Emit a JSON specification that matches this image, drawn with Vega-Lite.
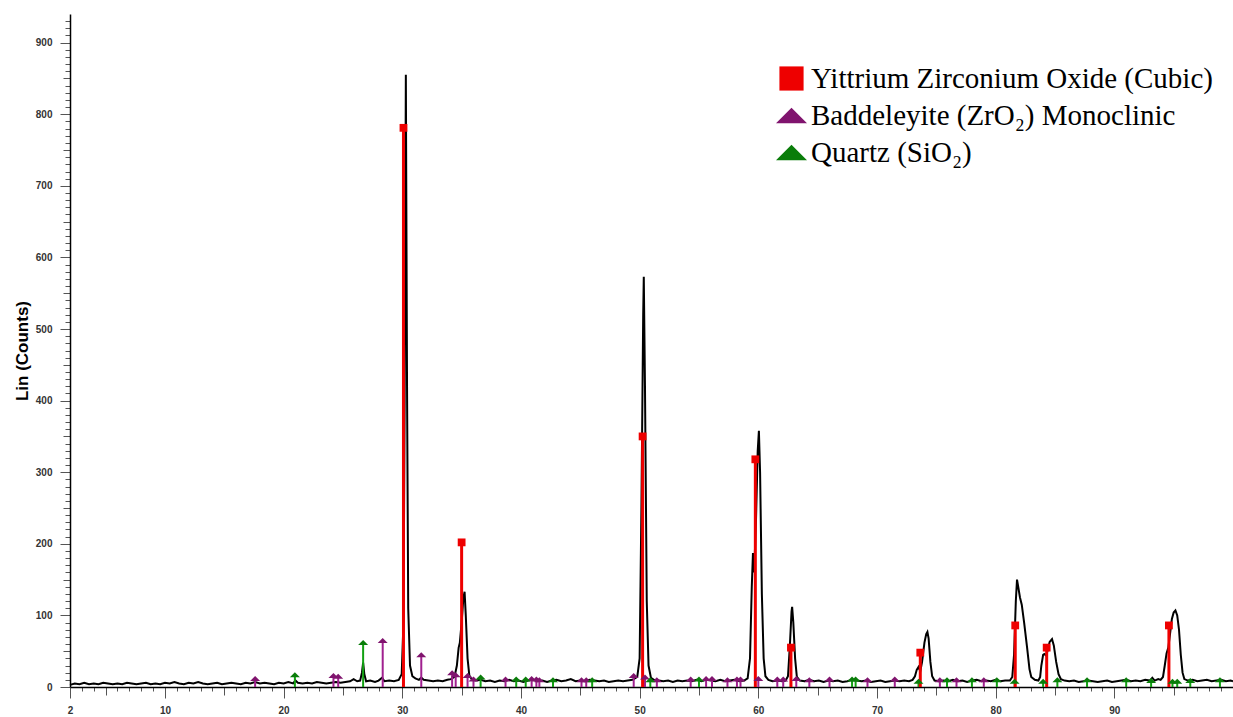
{
  "$schema": "https://vega.github.io/schema/vega-lite/v6.json",
  "autosize": {"type": "none"},
  "width": 1163,
  "height": 673,
  "padding": {"left": 70, "top": 14, "right": 0, "bottom": 30},
  "background": "#ffffff",
  "config": {"view": {"stroke": null}},
  "datasets": {
    "pattern": [
      {"x":2.0,"y":3},{"x":2.4,"y":5},{"x":2.8,"y":4},{"x":3.2,"y":6},{"x":3.6,"y":4},{"x":4.0,"y":5},{"x":4.4,"y":4},{"x":4.8,"y":6},{"x":5.2,"y":5},{"x":5.6,"y":4},
      {"x":6.0,"y":5},{"x":6.4,"y":4},{"x":6.8,"y":6},{"x":7.2,"y":5},{"x":7.6,"y":4},{"x":8.0,"y":5},{"x":8.4,"y":6},{"x":8.8,"y":4},{"x":9.2,"y":5},{"x":9.6,"y":4},
      {"x":10.0,"y":6},{"x":10.4,"y":5},{"x":10.8,"y":7},{"x":11.2,"y":5},{"x":11.6,"y":4},{"x":12.0,"y":6},{"x":12.4,"y":5},{"x":12.8,"y":7},{"x":13.2,"y":5},{"x":13.6,"y":4},
      {"x":14.0,"y":5},{"x":14.4,"y":6},{"x":14.8,"y":4},{"x":15.2,"y":5},{"x":15.6,"y":6},{"x":16.0,"y":5},{"x":16.4,"y":4},{"x":16.8,"y":6},{"x":17.2,"y":5},{"x":17.6,"y":7},
      {"x":18.0,"y":5},{"x":18.4,"y":6},{"x":18.8,"y":5},{"x":19.2,"y":4},{"x":19.6,"y":6},{"x":20.0,"y":5},{"x":20.4,"y":7},{"x":20.8,"y":5},{"x":21.0,"y":9},{"x":21.2,"y":6},
      {"x":21.6,"y":5},{"x":22.0,"y":6},{"x":22.4,"y":5},{"x":22.8,"y":7},{"x":23.2,"y":6},{"x":23.6,"y":5},{"x":24.0,"y":6},{"x":24.4,"y":7},{"x":24.8,"y":6},{"x":25.2,"y":7},
      {"x":25.6,"y":8},{"x":25.9,"y":11},{"x":26.2,"y":8},{"x":26.45,"y":9},{"x":26.6,"y":20},{"x":26.7,"y":34},{"x":26.8,"y":18},{"x":26.95,"y":8},{"x":27.3,"y":9},{"x":27.7,"y":7},
      {"x":28.0,"y":9},{"x":28.3,"y":13},{"x":28.5,"y":8},{"x":28.9,"y":9},{"x":29.3,"y":8},{"x":29.7,"y":10},{"x":29.95,"y":18},{"x":30.1,"y":90},{"x":30.2,"y":400},{"x":30.3,"y":855},
      {"x":30.4,"y":420},{"x":30.5,"y":110},{"x":30.65,"y":30},{"x":30.85,"y":15},{"x":31.1,"y":12},{"x":31.4,"y":10},{"x":31.6,"y":13},{"x":31.8,"y":10},{"x":32.2,"y":9},{"x":32.6,"y":8},
      {"x":33.0,"y":9},{"x":33.4,"y":8},{"x":33.8,"y":10},{"x":34.1,"y":11},{"x":34.4,"y":14},{"x":34.6,"y":30},{"x":34.75,"y":55},{"x":34.85,"y":62},{"x":35.0,"y":90},{"x":35.15,"y":125},
      {"x":35.25,"y":133},{"x":35.35,"y":100},{"x":35.5,"y":40},{"x":35.65,"y":16},{"x":35.9,"y":10},{"x":36.2,"y":9},{"x":36.6,"y":10},{"x":37.0,"y":8},{"x":37.4,"y":9},{"x":37.8,"y":7},
      {"x":38.2,"y":9},{"x":38.6,"y":8},{"x":39.0,"y":10},{"x":39.4,"y":8},{"x":39.8,"y":9},{"x":40.2,"y":7},{"x":40.6,"y":9},{"x":41.0,"y":10},{"x":41.4,"y":8},{"x":41.8,"y":9},
      {"x":42.2,"y":7},{"x":42.6,"y":9},{"x":43.0,"y":10},{"x":43.4,"y":8},{"x":43.8,"y":9},{"x":44.2,"y":11},{"x":44.6,"y":8},{"x":45.0,"y":9},{"x":45.4,"y":8},{"x":45.8,"y":10},
      {"x":46.2,"y":9},{"x":46.6,"y":8},{"x":47.0,"y":9},{"x":47.4,"y":7},{"x":47.8,"y":8},{"x":48.2,"y":9},{"x":48.6,"y":8},{"x":49.0,"y":9},{"x":49.4,"y":10},{"x":49.8,"y":14},
      {"x":50.0,"y":40},{"x":50.15,"y":250},{"x":50.3,"y":520},{"x":50.35,"y":573},{"x":50.45,"y":420},{"x":50.6,"y":120},{"x":50.75,"y":30},{"x":50.95,"y":13},{"x":51.2,"y":10},{"x":51.6,"y":9},
      {"x":52.0,"y":8},{"x":52.4,"y":9},{"x":52.8,"y":7},{"x":53.2,"y":9},{"x":53.6,"y":8},{"x":54.0,"y":9},{"x":54.4,"y":8},{"x":54.8,"y":10},{"x":55.2,"y":8},{"x":55.6,"y":10},
      {"x":56.0,"y":9},{"x":56.4,"y":8},{"x":56.8,"y":10},{"x":57.2,"y":8},{"x":57.6,"y":9},{"x":58.0,"y":10},{"x":58.4,"y":8},{"x":58.8,"y":9},{"x":59.1,"y":12},{"x":59.3,"y":40},
      {"x":59.45,"y":140},{"x":59.55,"y":187},{"x":59.65,"y":160},{"x":59.8,"y":230},{"x":59.95,"y":330},{"x":60.05,"y":358},{"x":60.15,"y":300},{"x":60.3,"y":130},{"x":60.45,"y":40},{"x":60.6,"y":15},
      {"x":60.85,"y":10},{"x":61.2,"y":8},{"x":61.6,"y":9},{"x":62.0,"y":8},{"x":62.3,"y":9},{"x":62.5,"y":15},{"x":62.65,"y":55},{"x":62.8,"y":105},{"x":62.85,"y":112},{"x":62.95,"y":90},
      {"x":63.1,"y":40},{"x":63.25,"y":14},{"x":63.5,"y":9},{"x":63.9,"y":8},{"x":64.3,"y":10},{"x":64.7,"y":8},{"x":65.1,"y":9},{"x":65.5,"y":7},{"x":65.9,"y":9},{"x":66.3,"y":8},
      {"x":66.7,"y":9},{"x":67.1,"y":7},{"x":67.5,"y":8},{"x":67.9,"y":10},{"x":68.3,"y":9},{"x":68.7,"y":8},{"x":69.1,"y":9},{"x":69.5,"y":7},{"x":69.9,"y":8},{"x":70.3,"y":9},
      {"x":70.7,"y":7},{"x":71.1,"y":8},{"x":71.5,"y":9},{"x":71.9,"y":8},{"x":72.3,"y":9},{"x":72.7,"y":8},{"x":73.0,"y":10},{"x":73.2,"y":15},{"x":73.35,"y":24},{"x":73.5,"y":28},
      {"x":73.65,"y":22},{"x":73.8,"y":35},{"x":74.0,"y":62},{"x":74.15,"y":74},{"x":74.25,"y":77},{"x":74.35,"y":68},{"x":74.5,"y":35},{"x":74.65,"y":15},{"x":74.85,"y":9},{"x":75.2,"y":8},
      {"x":75.6,"y":9},{"x":76.0,"y":8},{"x":76.4,"y":10},{"x":76.8,"y":8},{"x":77.2,"y":9},{"x":77.6,"y":7},{"x":78.0,"y":9},{"x":78.4,"y":10},{"x":78.8,"y":8},{"x":79.2,"y":9},
      {"x":79.6,"y":8},{"x":80.0,"y":10},{"x":80.4,"y":8},{"x":80.8,"y":9},{"x":81.2,"y":9},{"x":81.4,"y":14},{"x":81.55,"y":45},{"x":81.7,"y":120},{"x":81.8,"y":150},{"x":81.9,"y":140},
      {"x":82.05,"y":125},{"x":82.2,"y":115},{"x":82.4,"y":90},{"x":82.65,"y":55},{"x":82.85,"y":25},{"x":83.0,"y":14},{"x":83.3,"y":10},{"x":83.6,"y":9},{"x":83.75,"y":14},{"x":83.85,"y":30},
      {"x":84.0,"y":45},{"x":84.1,"y":46},{"x":84.25,"y":44},{"x":84.4,"y":52},{"x":84.55,"y":63},{"x":84.75,"y":67},{"x":84.9,"y":58},{"x":85.1,"y":35},{"x":85.3,"y":18},{"x":85.5,"y":11},
      {"x":85.8,"y":9},{"x":86.2,"y":8},{"x":86.6,"y":9},{"x":87.0,"y":7},{"x":87.4,"y":8},{"x":87.8,"y":9},{"x":88.2,"y":8},{"x":88.6,"y":7},{"x":89.0,"y":8},{"x":89.4,"y":9},
      {"x":89.8,"y":7},{"x":90.2,"y":8},{"x":90.6,"y":9},{"x":91.0,"y":10},{"x":91.4,"y":8},{"x":91.8,"y":9},{"x":92.2,"y":8},{"x":92.6,"y":10},{"x":93.0,"y":9},{"x":93.2,"y":13},
      {"x":93.4,"y":9},{"x":93.7,"y":11},{"x":93.9,"y":10},{"x":94.1,"y":14},{"x":94.25,"y":30},{"x":94.4,"y":47},{"x":94.55,"y":55},{"x":94.7,"y":75},{"x":94.85,"y":95},{"x":95.0,"y":104},
      {"x":95.15,"y":107},{"x":95.3,"y":100},{"x":95.45,"y":80},{"x":95.6,"y":45},{"x":95.75,"y":20},{"x":95.9,"y":11},{"x":96.2,"y":9},{"x":96.6,"y":10},{"x":97.0,"y":8},{"x":97.4,"y":9},
      {"x":97.8,"y":10},{"x":98.2,"y":8},{"x":98.6,"y":9},{"x":99.0,"y":10},{"x":99.4,"y":8},{"x":99.8,"y":9},{"x":100.0,"y":8}
    ],
    "refs": [
      {"x":30.1,"y":781,"phase":"Yittrium Zirconium Oxide (Cubic)"},
      {"x":35.0,"y":202,"phase":"Yittrium Zirconium Oxide (Cubic)"},
      {"x":50.25,"y":350,"phase":"Yittrium Zirconium Oxide (Cubic)"},
      {"x":59.75,"y":318,"phase":"Yittrium Zirconium Oxide (Cubic)"},
      {"x":62.75,"y":55,"phase":"Yittrium Zirconium Oxide (Cubic)"},
      {"x":73.65,"y":48,"phase":"Yittrium Zirconium Oxide (Cubic)"},
      {"x":81.65,"y":86,"phase":"Yittrium Zirconium Oxide (Cubic)"},
      {"x":84.3,"y":55,"phase":"Yittrium Zirconium Oxide (Cubic)"},
      {"x":94.6,"y":86,"phase":"Yittrium Zirconium Oxide (Cubic)"},
      {"x":17.6,"y":12,"phase":"Baddeleyite (ZrO₂) Monoclinic"},
      {"x":24.2,"y":16,"phase":"Baddeleyite (ZrO₂) Monoclinic"},
      {"x":24.6,"y":15,"phase":"Baddeleyite (ZrO₂) Monoclinic"},
      {"x":28.35,"y":65,"phase":"Baddeleyite (ZrO₂) Monoclinic"},
      {"x":31.6,"y":45,"phase":"Baddeleyite (ZrO₂) Monoclinic"},
      {"x":34.2,"y":20,"phase":"Baddeleyite (ZrO₂) Monoclinic"},
      {"x":34.5,"y":17,"phase":"Baddeleyite (ZrO₂) Monoclinic"},
      {"x":35.5,"y":16,"phase":"Baddeleyite (ZrO₂) Monoclinic"},
      {"x":36.0,"y":11,"phase":"Baddeleyite (ZrO₂) Monoclinic"},
      {"x":38.7,"y":11,"phase":"Baddeleyite (ZrO₂) Monoclinic"},
      {"x":40.9,"y":12,"phase":"Baddeleyite (ZrO₂) Monoclinic"},
      {"x":41.3,"y":11,"phase":"Baddeleyite (ZrO₂) Monoclinic"},
      {"x":41.55,"y":10,"phase":"Baddeleyite (ZrO₂) Monoclinic"},
      {"x":45.1,"y":10,"phase":"Baddeleyite (ZrO₂) Monoclinic"},
      {"x":45.5,"y":10,"phase":"Baddeleyite (ZrO₂) Monoclinic"},
      {"x":49.5,"y":16,"phase":"Baddeleyite (ZrO₂) Monoclinic"},
      {"x":50.45,"y":14,"phase":"Baddeleyite (ZrO₂) Monoclinic"},
      {"x":51.45,"y":10,"phase":"Baddeleyite (ZrO₂) Monoclinic"},
      {"x":54.3,"y":11,"phase":"Baddeleyite (ZrO₂) Monoclinic"},
      {"x":55.6,"y":12,"phase":"Baddeleyite (ZrO₂) Monoclinic"},
      {"x":56.1,"y":12,"phase":"Baddeleyite (ZrO₂) Monoclinic"},
      {"x":57.4,"y":10,"phase":"Baddeleyite (ZrO₂) Monoclinic"},
      {"x":58.2,"y":11,"phase":"Baddeleyite (ZrO₂) Monoclinic"},
      {"x":58.5,"y":11,"phase":"Baddeleyite (ZrO₂) Monoclinic"},
      {"x":60.0,"y":12,"phase":"Baddeleyite (ZrO₂) Monoclinic"},
      {"x":61.6,"y":11,"phase":"Baddeleyite (ZrO₂) Monoclinic"},
      {"x":62.1,"y":11,"phase":"Baddeleyite (ZrO₂) Monoclinic"},
      {"x":63.2,"y":12,"phase":"Baddeleyite (ZrO₂) Monoclinic"},
      {"x":64.3,"y":10,"phase":"Baddeleyite (ZrO₂) Monoclinic"},
      {"x":66.0,"y":11,"phase":"Baddeleyite (ZrO₂) Monoclinic"},
      {"x":69.2,"y":10,"phase":"Baddeleyite (ZrO₂) Monoclinic"},
      {"x":71.5,"y":11,"phase":"Baddeleyite (ZrO₂) Monoclinic"},
      {"x":75.3,"y":10,"phase":"Baddeleyite (ZrO₂) Monoclinic"},
      {"x":76.7,"y":10,"phase":"Baddeleyite (ZrO₂) Monoclinic"},
      {"x":79.0,"y":10,"phase":"Baddeleyite (ZrO₂) Monoclinic"},
      {"x":20.95,"y":17,"phase":"Quartz (SiO₂)"},
      {"x":26.7,"y":62,"phase":"Quartz (SiO₂)"},
      {"x":36.6,"y":14,"phase":"Quartz (SiO₂)"},
      {"x":39.6,"y":11,"phase":"Quartz (SiO₂)"},
      {"x":40.4,"y":11,"phase":"Quartz (SiO₂)"},
      {"x":42.7,"y":10,"phase":"Quartz (SiO₂)"},
      {"x":46.0,"y":10,"phase":"Quartz (SiO₂)"},
      {"x":50.9,"y":10,"phase":"Quartz (SiO₂)"},
      {"x":55.0,"y":11,"phase":"Quartz (SiO₂)"},
      {"x":67.9,"y":11,"phase":"Quartz (SiO₂)"},
      {"x":68.2,"y":11,"phase":"Quartz (SiO₂)"},
      {"x":73.5,"y":8,"phase":"Quartz (SiO₂)"},
      {"x":75.9,"y":10,"phase":"Quartz (SiO₂)"},
      {"x":78.0,"y":10,"phase":"Quartz (SiO₂)"},
      {"x":80.1,"y":10,"phase":"Quartz (SiO₂)"},
      {"x":81.6,"y":8,"phase":"Quartz (SiO₂)"},
      {"x":84.0,"y":8,"phase":"Quartz (SiO₂)"},
      {"x":85.2,"y":10,"phase":"Quartz (SiO₂)"},
      {"x":87.7,"y":10,"phase":"Quartz (SiO₂)"},
      {"x":91.0,"y":10,"phase":"Quartz (SiO₂)"},
      {"x":93.1,"y":9,"phase":"Quartz (SiO₂)"},
      {"x":94.9,"y":8,"phase":"Quartz (SiO₂)"},
      {"x":95.3,"y":8,"phase":"Quartz (SiO₂)"},
      {"x":96.4,"y":9,"phase":"Quartz (SiO₂)"},
      {"x":98.9,"y":10,"phase":"Quartz (SiO₂)"}
    ]
  },
  "encoding": {
    "x": {
      "field": "x", "type": "quantitative",
      "scale": {"domain": [2, 100], "nice": false, "zero": false},
      "axis": {
        "title": null,
        "values": [2,3,4,5,6,7,8,9,10,11,12,13,14,15,16,17,18,19,20,21,22,23,24,25,26,27,28,29,30,31,32,33,34,35,36,37,38,39,40,41,42,43,44,45,46,47,48,49,50,51,52,53,54,55,56,57,58,59,60,61,62,63,64,65,66,67,68,69,70,71,72,73,74,75,76,77,78,79,80,81,82,83,84,85,86,87,88,89,90,91,92,93,94,95,96,97,98,99],
        "labelExpr": "(datum.value === 2 || datum.value % 10 === 0) ? datum.label : ''",
        "tickSize": {"condition": [{"test": "datum.value % 10 === 0 || datum.value === 2", "value": 11}, {"test": "datum.value % 5 === 0", "value": 8}], "value": 4},
        "tickColor": "#555",
        "tickWidth": 1,
        "domainColor": "#000",
        "domainWidth": 1.5,
        "labelFont": "Liberation Sans",
        "labelFontSize": 10,
        "labelFontWeight": "bold",
        "labelColor": "#333",
        "labelPadding": 7,
        "labelFlush": false,
        "labelOverlap": false,
        "grid": false
      }
    },
    "y": {
      "field": "y", "type": "quantitative",
      "scale": {"domain": [0, 940], "nice": false},
      "axis": {
        "title": "Lin (Counts)",
        "titleFont": "Liberation Sans",
        "titleFontSize": 17,
        "titleFontWeight": "bold",
        "titleColor": "#000",
        "titlePadding": 4,
        "values": [0,10,20,30,40,50,60,70,80,90,100,110,120,130,140,150,160,170,180,190,200,210,220,230,240,250,260,270,280,290,300,310,320,330,340,350,360,370,380,390,400,410,420,430,440,450,460,470,480,490,500,510,520,530,540,550,560,570,580,590,600,610,620,630,640,650,660,670,680,690,700,710,720,730,740,750,760,770,780,790,800,810,820,830,840,850,860,870,880,890,900,910,920,930],
        "labelExpr": "datum.value % 100 === 0 ? datum.label : ''",
        "tickSize": {"condition": [{"test": "datum.value % 100 === 0", "value": 10}, {"test": "datum.value % 50 === 0", "value": 7}], "value": 5},
        "tickColor": "#555",
        "domainColor": "#000",
        "domainWidth": 1.5,
        "labelFont": "Liberation Sans",
        "labelFontSize": 10,
        "labelFontWeight": "bold",
        "labelColor": "#333",
        "labelPadding": 8,
        "labelOverlap": false,
        "grid": false
      }
    }
  },
  "layer": [
    {
      "data": {"name": "pattern"},
      "mark": {"type": "line", "color": "#000000", "strokeWidth": 2}
    },
    {
      "data": {"name": "refs"},
      "transform": [{"filter": "datum.phase === 'Baddeleyite (ZrO₂) Monoclinic'"}],
      "mark": {"type": "rule", "color": "#a0208f", "strokeWidth": 2},
      "encoding": {"y2": {"datum": 0}}
    },
    {
      "data": {"name": "refs"},
      "transform": [{"filter": "datum.phase === 'Quartz (SiO₂)'"}],
      "mark": {"type": "rule", "color": "#12a012", "strokeWidth": 2},
      "encoding": {"y2": {"datum": 0}}
    },
    {
      "data": {"name": "refs"},
      "transform": [{"filter": "datum.phase === 'Yittrium Zirconium Oxide (Cubic)'"}],
      "mark": {"type": "rule", "color": "#ee0000", "strokeWidth": 3},
      "encoding": {"y2": {"datum": 0}}
    },
    {
      "data": {"name": "refs"},
      "mark": {"type": "point", "filled": true, "opacity": 1, "size": 100, "strokeWidth": 0},
      "encoding": {
        "color": {
          "field": "phase", "type": "nominal",
          "scale": {"domain": ["Yittrium Zirconium Oxide (Cubic)", "Baddeleyite (ZrO₂) Monoclinic", "Quartz (SiO₂)"], "range": ["#ee0000", "#80146e", "#0a7d0a"]},
          "legend": {
            "title": null,
            "orient": "none",
            "legendX": 706,
            "legendY": 49,
            "padding": 0,
            "labelFont": "Liberation Serif",
            "labelFontSize": 29,
            "labelColor": "#000",
            "labelLimit": 0,
            "labelOffset": 4,
            "symbolSize": 961,
            "symbolStrokeWidth": 0,
            "symbolOpacity": 1,
            "rowPadding": 6
          }
        },
        "shape": {
          "field": "phase", "type": "nominal",
          "scale": {"domain": ["Yittrium Zirconium Oxide (Cubic)", "Baddeleyite (ZrO₂) Monoclinic", "Quartz (SiO₂)"], "range": ["M-0.78,-0.78L0.78,-0.78L0.78,0.78L-0.78,0.78Z", "M-1,0.5L1,0.5L0,-0.5Z", "M-1,0.5L1,0.5L0,-0.5Z"]},
          "legend": {
            "title": null,
            "orient": "none",
            "legendX": 706,
            "legendY": 49,
            "padding": 0,
            "labelFont": "Liberation Serif",
            "labelFontSize": 29,
            "labelColor": "#000",
            "labelLimit": 0,
            "labelOffset": 4,
            "symbolSize": 961,
            "symbolStrokeWidth": 0,
            "symbolOpacity": 1,
            "rowPadding": 6
          }
        }
      }
    }
  ]
}
